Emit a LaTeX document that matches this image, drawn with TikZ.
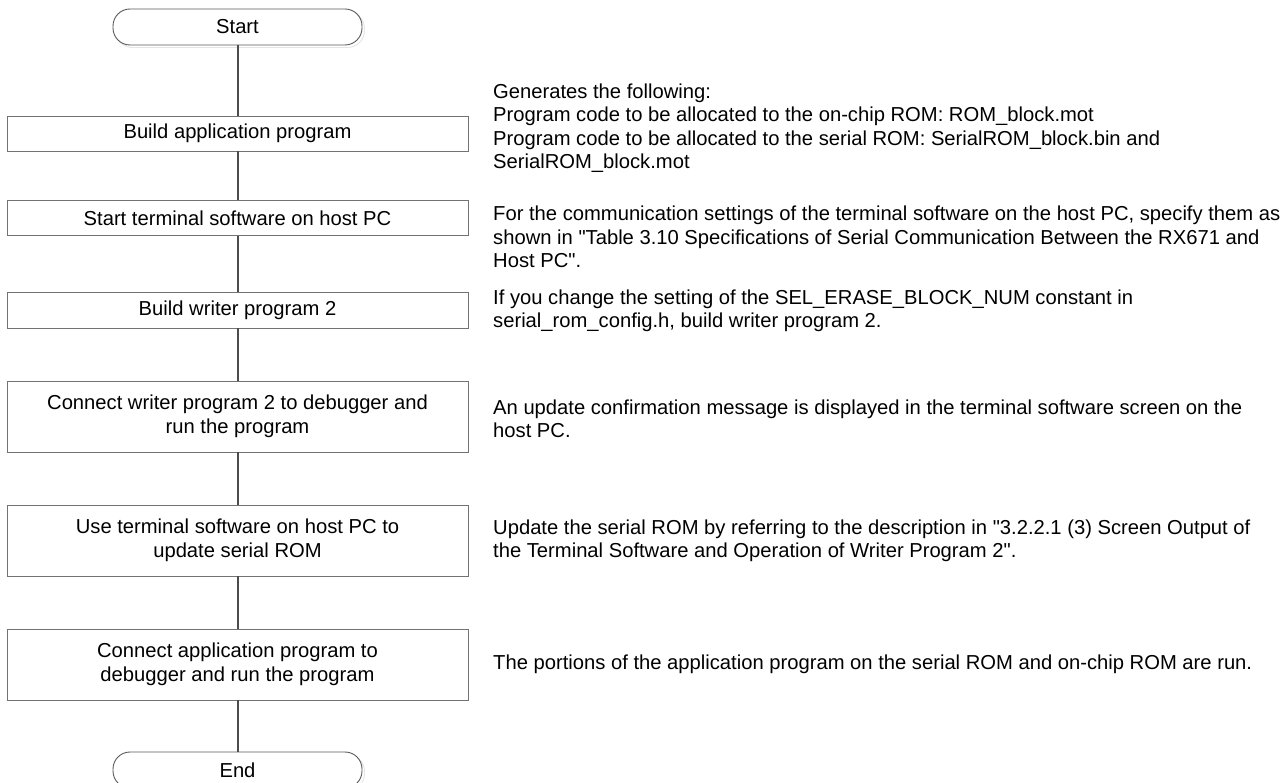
\documentclass[tikz,border=0pt]{standalone}
\usepackage{fontspec}
\setmainfont{Liberation Sans}[Ligatures=TeXOff]
\begin{document}
\begin{tikzpicture}[x=1pt,y=-1pt,
  every node/.style={font=\fontsize{20.2}{23.5}\selectfont, text=black},
  stepbox/.style={draw=black!55, line width=0.9pt, fill=white, minimum width=461pt, inner sep=0pt, align=center},
  term/.style={draw=black!65, line width=0.9pt, fill=white, rounded corners=17pt, minimum width=249pt, minimum height=36pt, inner sep=0pt},
  termshadow/.style={draw=black!10, line width=0.9pt, rounded corners=17pt, minimum width=249pt, minimum height=36pt, inner sep=0pt},
  note/.style={anchor=west, align=left, inner sep=0pt},
  conn/.style={draw=black!70, line width=2pt}
]
\useasboundingbox (0,0) rectangle (1285,783);
\fill[white] (0,0) rectangle (1285,783);

% terminals with faint shadow
\node[termshadow] (startsh) at (240,29.5) {};
\node[termshadow] (endsh) at (240,772.5) {};
\node[term] (start) at (237.5,27) {Start};
\node[term] (end) at (237.5,770) {End};

% process boxes
\node[stepbox, minimum height=35pt] (b1) at (237.5,133.5) {Build application program};
\node[stepbox, minimum height=35pt] (b2) at (237.5,218) {Start terminal software on host PC};
\node[stepbox, minimum height=36pt] (b3) at (237.5,310) {Build writer program 2};
\node[stepbox, minimum height=71pt] (b4) at (237.5,416.5) {Connect writer program 2 to debugger and\\run the program};
\node[stepbox, minimum height=71pt] (b5) at (237.5,540.5) {Use terminal software on host PC to\\update serial ROM};
\node[stepbox, minimum height=71pt] (b6) at (237.5,664.5) {Connect application program to\\debugger and run the program};

% connectors
\draw[conn] (start) -- (b1);
\draw[conn] (b1) -- (b2);
\draw[conn] (b2) -- (b3);
\draw[conn] (b3) -- (b4);
\draw[conn] (b4) -- (b5);
\draw[conn] (b5) -- (b6);
\draw[conn] (b6) -- (end);

% notes
\node[note] (n1) at (493,128) {Generates the following:\\Program code to be allocated to the on-chip ROM: ROM\_block.mot\\Program code to be allocated to the serial ROM: SerialROM\_block.bin and\\SerialROM\_block.mot};
\node[note] (n2) at (493,237) {For the communication settings of the terminal software on the host PC, specify them as\\shown in "Table 3.10 Specifications of Serial Communication Between the RX671 and\\Host PC".};
\node[note] (n3) at (493,311) {If you change the setting of the SEL\_ERASE\_BLOCK\_NUM constant in\\serial\_rom\_config.h, build writer program 2.};
\node[note] (n4) at (493,419) {An update confirmation message is displayed in the terminal software screen on the\\host PC.};
\node[note] (n5) at (493,541) {Update the serial ROM by referring to the description in "3.2.2.1 (3) Screen Output of\\the Terminal Software and Operation of Writer Program 2".};
\node[note] (n6) at (493,664) {The portions of the application program on the serial ROM and on-chip ROM are run.};
\end{tikzpicture}
\end{document}
